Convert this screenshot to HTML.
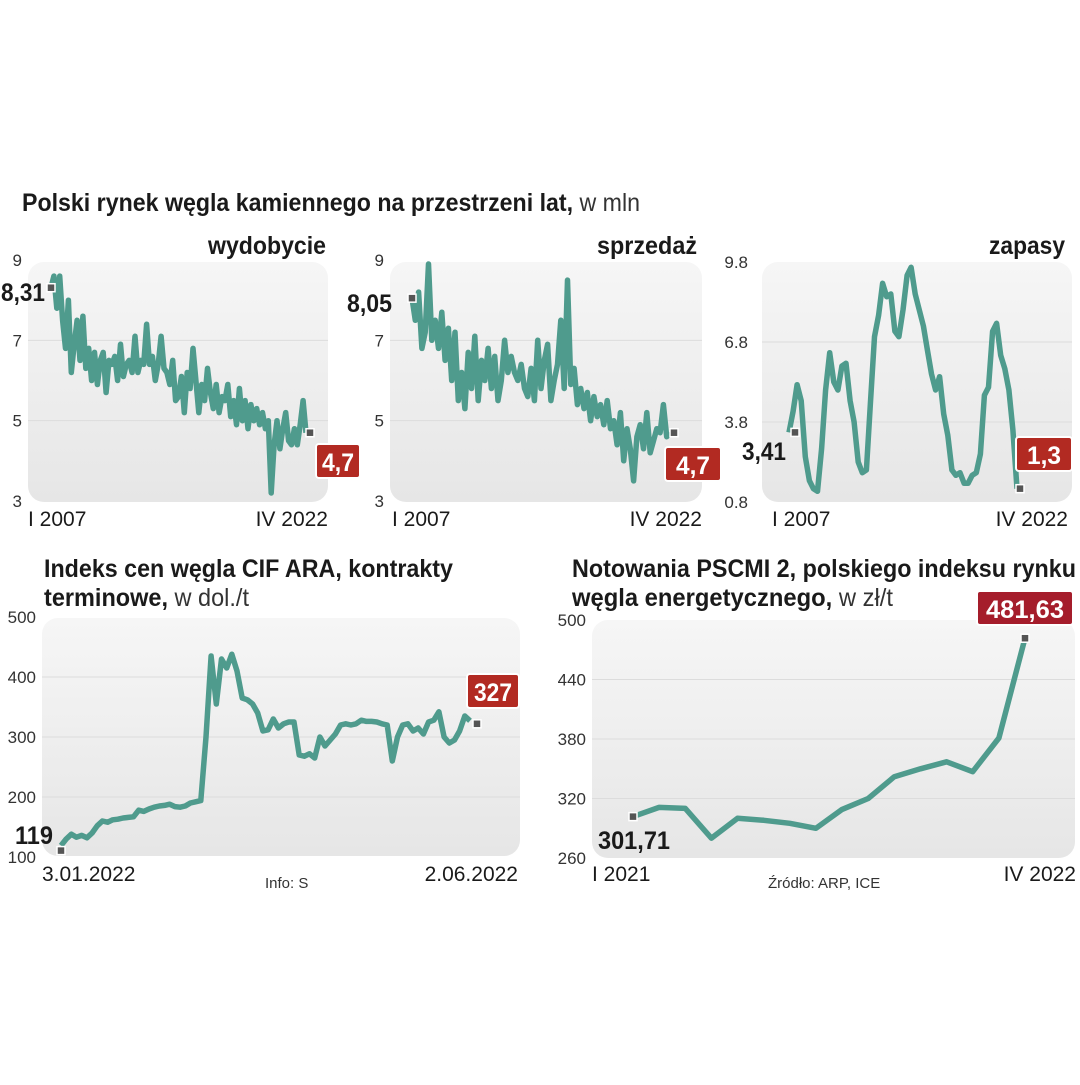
<!DOCTYPE html>
<html><head><meta charset="utf-8"><style>
body{margin:0;background:#fff;width:1080px;height:1080px;overflow:hidden}
svg text{font-family:"Liberation Sans Narrow","Liberation Sans",sans-serif}
</style></head><body>
<svg id="s" width="1080" height="1080" xmlns="http://www.w3.org/2000/svg">
<defs><linearGradient id="g" x1="0" y1="0" x2="0" y2="1"><stop offset="0" stop-color="#f6f6f6"/><stop offset="1" stop-color="#e6e6e6"/></linearGradient></defs>
<text x="22" y="211" font-size="25" font-weight="bold" fill="#1a1a1a" textLength="618" lengthAdjust="spacingAndGlyphs">Polski rynek węgla kamiennego na przestrzeni lat,<tspan font-weight="normal" fill="#333"> w mln</tspan></text>
<text x="44" y="577" font-size="25" font-weight="bold" fill="#1a1a1a" textLength="409" lengthAdjust="spacingAndGlyphs">Indeks cen węgla CIF ARA, kontrakty</text>
<text x="44" y="606" font-size="25" font-weight="bold" fill="#1a1a1a" textLength="205" lengthAdjust="spacingAndGlyphs">terminowe,<tspan font-weight="normal" fill="#333"> w dol./t</tspan></text>
<text x="572" y="577" font-size="25" font-weight="bold" fill="#1a1a1a" textLength="504" lengthAdjust="spacingAndGlyphs">Notowania PSCMI 2, polskiego indeksu rynku</text>
<text x="572" y="606" font-size="25" font-weight="bold" fill="#1a1a1a" textLength="321" lengthAdjust="spacingAndGlyphs">węgla energetycznego,<tspan font-weight="normal" fill="#333"> w zł/t</tspan></text>
<text x="265" y="888" font-size="15" fill="#333">Info: S</text>
<text x="768" y="888" font-size="15" fill="#333">Źródło: ARP, ICE</text>
<g id="charts"></g>
</svg>
<script>
const wydobycie=[8.31,8.6,7.8,8.6,7.5,6.8,8.0,6.2,6.9,7.5,6.5,7.6,6.3,6.8,6.0,6.7,5.9,6.5,6.7,5.7,6.5,6.4,6.6,6.0,6.9,6.1,6.4,6.5,6.2,7.1,6.2,6.5,6.4,7.4,6.4,6.6,6.0,6.4,7.1,6.3,6.2,5.9,6.5,5.5,5.6,6.1,5.2,6.2,5.8,6.8,6.0,5.2,5.9,5.5,6.3,5.7,5.3,5.9,5.2,5.6,5.5,5.9,5.1,5.5,4.9,5.8,5.0,5.5,4.8,5.4,5.0,5.3,4.9,5.2,4.8,5.0,3.2,4.4,5.0,4.3,4.8,5.2,4.5,4.4,4.8,4.4,4.9,5.5,4.7];
const sprzedaz=[8.05,7.5,8.2,6.8,7.2,8.9,7.0,7.5,6.8,7.7,6.5,7.3,6.0,7.2,5.5,6.2,5.3,6.7,5.8,7.1,5.5,6.5,6.0,6.8,5.8,6.6,5.5,6.0,7.0,6.2,6.6,6.2,6.0,6.4,5.8,5.6,6.3,5.5,7.0,5.8,6.5,6.9,5.5,6.0,6.4,7.5,5.8,8.5,5.9,6.3,5.4,5.8,5.3,5.7,5.0,5.6,5.1,5.4,4.9,5.5,4.8,5.0,4.4,5.2,4.0,4.8,4.3,3.5,4.6,4.9,4.3,5.2,4.2,4.5,4.8,4.7,5.4,4.6,4.7];
const zapasy=[3.41,4.2,5.2,4.6,2.5,1.6,1.3,1.2,2.8,5.0,6.4,5.3,5.0,5.9,6.0,4.6,3.8,2.3,1.9,2.0,4.5,7.0,7.8,9.0,8.5,8.6,7.2,7.0,8.0,9.3,9.6,8.6,8.0,7.4,6.5,5.6,5.0,5.5,4.1,3.3,2.0,1.8,1.9,1.5,1.5,1.8,1.9,2.6,4.8,5.1,7.2,7.5,6.3,5.8,5.0,3.5,1.3];
const cifValues=[119,130,138,133,136,132,140,152,160,158,162,163,165,166,167,178,176,180,183,185,186,188,184,183,185,190,192,194,300,435,355,430,415,438,410,365,362,355,340,310,312,330,315,322,325,325,270,268,272,265,300,285,295,305,320,322,320,322,328,326,326,325,322,320,260,300,320,322,310,315,305,325,328,342,300,290,295,310,335,327];
const pscmiValues=[301.71,311,310,280,300,298,295,290,309,320,342,350,357,347,381,481.63];
const tick1=["9","7","5","3"],tick3=["9.8","6.8","3.8","0.8"],tickCif=["500","400","300","200","100"],tickPs=["500","440","380","320","260"];
const NS="http://www.w3.org/2000/svg",G=document.getElementById('charts');
function el(t,a,p){const e=document.createElementNS(NS,t);for(const k in a)e.setAttribute(k,a[k]);(p||G).appendChild(e);return e;}
function chart(o){
 const g=el('g',{});
 
 
 const bg=el('rect',{x:o.px,y:o.py,width:o.pw,height:o.ph,rx:16,fill:'url(#g)'},g);
 
 
 const ys=v=>o.y0+(o.max-v)/(o.max-o.min)*(o.y1-o.y0);
 const xs=i=>o.x0+i/(o.data.length-1)*(o.x1-o.x0);
 o.ticks.forEach(t=>{const v=parseFloat(t),y=ys(v);
  if(v!==o.max&&v!==o.min)el('line',{x1:o.px,x2:o.px+o.pw,y1:y,y2:y,stroke:'#dcdcdc','stroke-width':1},g);
  const tx=el('text',{x:o.tx,y:y+6,'font-size':17,fill:'#333','text-anchor':'end'},g);tx.textContent=t;
  
  });
 const d=o.data.map((v,i)=>(i?'L':'M')+xs(i).toFixed(1)+' '+ys(v).toFixed(1)).join('');
 const p=el('path',{d:d,fill:'none',stroke:'#4f9b8d','stroke-width':5.5,'stroke-linejoin':'round'},g);
 
 
 [[0,o.sOff],[o.data.length-1,o.eOff]].forEach(([i,off])=>{
  const m=el('rect',{x:xs(i)+off[0]-4,y:ys(o.data[i])+off[1]-4,width:8,height:8,fill:'#555',stroke:'#fff','stroke-width':1.5},g);
  
  });
 const sl=el('text',{x:o.sl[0],y:o.sl[1],'font-size':25,'font-weight':'bold',fill:'#1a1a1a','text-anchor':'end',textLength:o.sl[2],lengthAdjust:'spacingAndGlyphs'},g);sl.textContent=o.sLab;
 
 
 const b=el('rect',{x:o.el[0],y:o.el[1],width:o.el[2],height:34,rx:3,fill:o.ec||'#b22a22',stroke:'#fff','stroke-width':2},g);
 
 
 const bt=el('text',{x:o.el[0]+o.el[2]/2,y:o.el[1]+27,'font-size':25,'font-weight':'bold',fill:'#fff','text-anchor':'middle',textLength:o.el[3],lengthAdjust:'spacingAndGlyphs'},g);bt.textContent=o.eLab;
 
 
 const a=el('text',{x:o.xl[0],y:o.xl[2],'font-size':21,fill:'#1a1a1a'},g);a.textContent=o.xa;
 
 
 const c=el('text',{x:o.xl[1],y:o.xl[2],'font-size':21,fill:'#1a1a1a','text-anchor':'end'},g);c.textContent=o.xb;
 
 
 if(o.title){const t=el('text',{x:o.tt[0],y:254,'font-size':25,'font-weight':'bold',fill:'#1a1a1a','text-anchor':'end',textLength:o.tt[1],lengthAdjust:'spacingAndGlyphs'},g);t.textContent=o.title;
 
 }
}
chart({name:'wydobycie-chart',title:'wydobycie',tt:[326,118],data:wydobycie,ticks:tick1,max:9,min:3,y0:260,y1:501,x0:51,x1:306,px:28,py:262,pw:300,ph:240,tx:22,sOff:[0,0],eOff:[4,0],sLab:'8,31',sl:[45,301,44],eLab:'4,7',el:[316,444,44,32],xa:'I 2007',xb:'IV 2022',xl:[28,328,526]});
chart({name:'sprzedaz-chart',title:'sprzedaż',tt:[697,100],data:sprzedaz,ticks:tick1,max:9,min:3,y0:260,y1:501,x0:412,x1:670,px:390,py:262,pw:312,ph:240,tx:384,sOff:[0,0],eOff:[4,0],sLab:'8,05',sl:[392,312,45],eLab:'4,7',el:[665,447,56,34],xa:'I 2007',xb:'IV 2022',xl:[392,702,526]});
chart({name:'zapasy-chart',title:'zapasy',tt:[1065,76],data:zapasy,ticks:tick3,max:9.8,min:0.8,y0:262,y1:502,x0:789,x1:1017,px:762,py:262,pw:310,ph:240,tx:748,sOff:[6,0],eOff:[3,0],sLab:'3,41',sl:[786,460,44],eLab:'1,3',el:[1016,437,56,34],xa:'I 2007',xb:'IV 2022',xl:[772,1068,526]});
chart({name:'cif-ara-chart',data:cifValues,ticks:tickCif,max:500,min:100,y0:617,y1:857,x0:61,x1:470,px:42,py:618,pw:478,ph:238,tx:36,sOff:[0,5],eOff:[7,3],sLab:'119',sl:[53,844,38],eLab:'327',el:[467,674,52,38],xa:'3.01.2022',xb:'2.06.2022',xl:[42,518,881]});
chart({name:'pscmi-chart',data:pscmiValues,ticks:tickPs,max:500,min:260,y0:620,y1:858,x0:633,x1:1025,px:592,py:620,pw:483,ph:238,tx:586,sOff:[0,0],eOff:[0,0],sLab:'301,71',sl:[670,849,72],eLab:'481,63',el:[977,591,96,78],ec:'#a51d2b',xa:'I 2021',xb:'IV 2022',xl:[592,1076,881]});
</script>
</body></html>
